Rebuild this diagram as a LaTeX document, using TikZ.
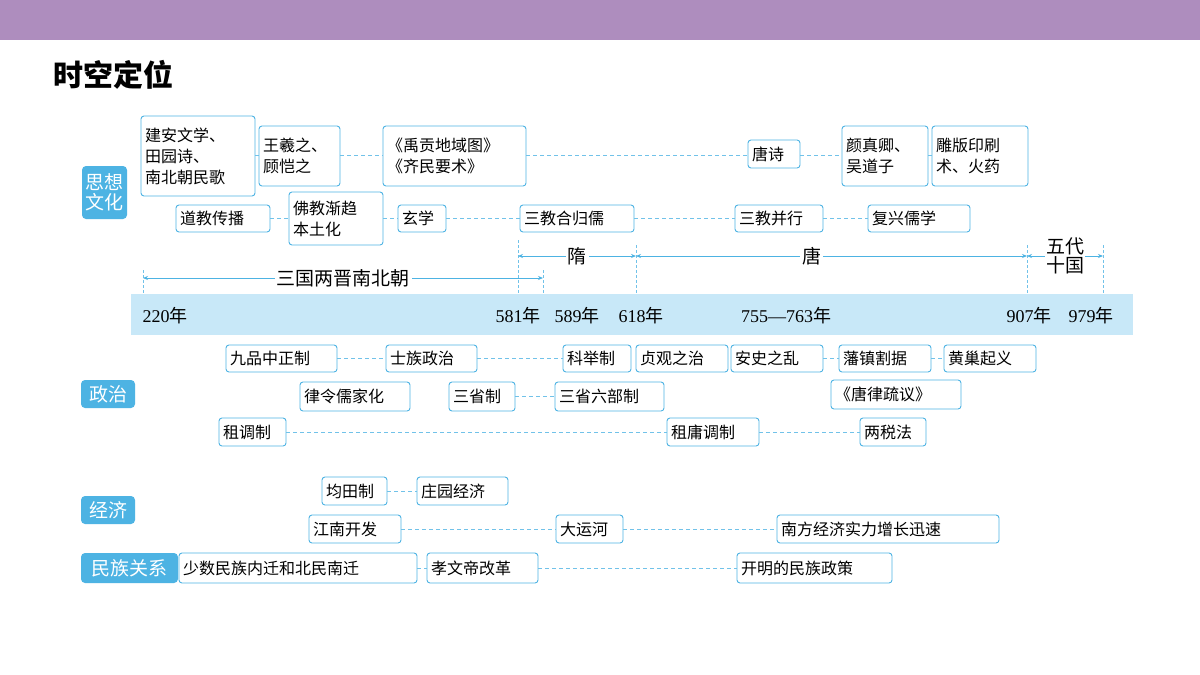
\documentclass[tikz,border=0pt]{standalone}
\usepackage{fontspec}
\setmainfont{Liberation Serif}
\newfontfamily\cjk{Noto Sans CJK SC}
\usetikzlibrary{arrows.meta}
\definecolor{bl}{HTML}{4DB3E3}
\definecolor{bar}{HTML}{C8E8F8}
\definecolor{pur}{HTML}{AE8DBE}
\tikzset{
 bx/.style={draw=bl,line width=0.9pt,rounded corners=3pt,inner sep=0pt,align=left,font=\cjk\fontsize{16}{21}\selectfont,text=black},
 lab/.style={fill=bl,rounded corners=4pt,inner sep=0pt,align=center,font=\cjk\fontsize{19}{23}\selectfont,text=white},
 dl/.style={draw=bl!80,dashed,line width=0.7pt,dash pattern=on 4pt off 3pt},
 per/.style={draw=bl,line width=0.8pt,{Stealth[length=5pt,width=4pt]}-{Stealth[length=5pt,width=4pt]}},
 tick/.style={draw=bl!80,dashed,line width=0.6pt,dash pattern=on 3pt off 2pt},
 pl/.style={fill=white,inner sep=2pt,font=\cjk\fontsize{19}{23}\selectfont,align=center},
 yr/.style={font=\fontsize{18}{20}\selectfont,inner sep=0pt}
}
\newcommand{\bxx}[6]{\node[bx,minimum width={#4-#2},minimum height={#5-#3},text width={#4-#2-8}] (#1) at ({(#2+#4)/2},{(#3+#5)/2}) {#6};}
\newcommand{\Y}[1]{#1{\cjk 年}}
\begin{document}
\begin{tikzpicture}[x=1pt,y=-1pt]
\useasboundingbox (0,0) rectangle (1200,675);
\fill[white] (0,0) rectangle (1200,675);
\fill[pur] (0,0) rectangle (1200,40);
\node[anchor=west,font=\cjk\bfseries\fontsize{30}{34}\selectfont,inner sep=0pt] (title) at (53,75) {时空定位};
% labels
\node[lab,minimum width=45,minimum height=53] (L1) at (104.5,192.5) {思想\\[-3pt]文化};
\node[lab,minimum width=54,minimum height=28] (L2) at (108,394) {政治};
\node[lab,minimum width=54,minimum height=28] (L3) at (108,510) {经济};
\node[lab,minimum width=97,minimum height=30] (L4) at (129.5,568) {民族关系};
% culture row 1
\bxx{a1}{141}{116}{255}{196}{建安文学、\\田园诗、\\南北朝民歌}
\bxx{a2}{259}{126}{340}{186}{王羲之、\\顾恺之}
\bxx{a3}{383}{126}{526}{186}{《禹贡地域图》\\《齐民要术》}
\bxx{a4}{748}{140}{800}{168}{唐诗}
\bxx{a5}{842}{126}{928}{186}{颜真卿、\\吴道子}
\bxx{a6}{932}{126}{1028}{186}{雕版印刷\\术、火药}
\foreach \u/\v in {a1/a2,a2/a3,a3/a4,a4/a5,a5/a6}{\draw[dl] (\u.east |- 0,155) -- (\v.west |- 0,155);}
% culture row 2
\bxx{b1}{176}{205}{270}{232}{道教传播}
\bxx{b2}{289}{192}{383}{245}{佛教渐趋\\本土化}
\bxx{b3}{398}{205}{446}{232}{玄学}
\bxx{b4}{520}{205}{634}{232}{三教合归儒}
\bxx{b5}{735}{205}{823}{232}{三教并行}
\bxx{b6}{868}{205}{970}{232}{复兴儒学}
\foreach \u/\v in {b1/b2,b2/b3,b3/b4,b4/b5,b5/b6}{\draw[dl] (\u.east |- 0,218) -- (\v.west |- 0,218);}
% periods
\coordinate (t220) at (143,278); \coordinate (t589) at (543,278);
\coordinate (t581) at (518,256); \coordinate (t618) at (636,256);
\coordinate (t907) at (1027,256); \coordinate (t979) at (1103,256);
\foreach \c/\y in {t220/270,t581/240,t589/270,t618/245,t907/245,t979/245}{\draw[tick] (\c |- 0,\y) -- (\c |- 0,295);}
\draw[per] (t220) -- (t589) node[pl,midway] (p0) {三国两晋南北朝};
\draw[per] (t581) -- (t618) node[pl,midway] (p1) {隋};
\draw[per] (t618) -- (t907) node[pl,pos=0.45] (p2) {唐};
\draw[per] (t907) -- (t979) node[pl,midway,inner sep=1pt] (p3) {五代\\[-4pt]十国};
% bar
\fill[bar] (131,294) rectangle (1133,335);
\node[yr] (y1) at (165,316) {\Y{220}};
\node[yr] (y2) at (518,316) {\Y{581}};
\node[yr] (y3) at (577,316) {\Y{589}};
\node[yr] (y4) at (641,316) {\Y{618}};
\node[yr] (y5) at (786,316) {\Y{755—763}};
\node[yr] (y6) at (1029,316) {\Y{907}};
\node[yr] (y7) at (1091,316) {\Y{979}};
% politics
\bxx{p1}{226}{345}{337}{372}{九品中正制}
\bxx{p2}{386}{345}{477}{372}{士族政治}
\bxx{p3}{563}{345}{631}{372}{科举制}
\bxx{p4}{636}{345}{728}{372}{贞观之治}
\bxx{p5}{731}{345}{823}{372}{安史之乱}
\bxx{p6}{839}{345}{931}{372}{藩镇割据}
\bxx{p7}{944}{345}{1036}{372}{黄巢起义}
\foreach \u/\v in {p1/p2,p2/p3,p5/p6,p6/p7}{\draw[dl] (\u.east) -- (\v.west);}
\bxx{q1}{300}{382}{410}{411}{律令儒家化}
\bxx{q2}{449}{382}{515}{411}{三省制}
\bxx{q3}{555}{382}{664}{411}{三省六部制}
\bxx{q4}{831}{380}{961}{409}{《唐律疏议》}
\draw[dl] (q2.east) -- (q3.west);
\bxx{r1}{219}{418}{286}{446}{租调制}
\bxx{r2}{667}{418}{759}{446}{租庸调制}
\bxx{r3}{860}{418}{926}{446}{两税法}
\draw[dl] (r1.east) -- (r2.west); \draw[dl] (r2.east) -- (r3.west);
% economy
\bxx{e1}{322}{477}{387}{505}{均田制}
\bxx{e2}{417}{477}{508}{505}{庄园经济}
\draw[dl] (e1.east) -- (e2.west);
\bxx{e3}{309}{515}{401}{543}{江南开发}
\bxx{e4}{556}{515}{623}{543}{大运河}
\bxx{e5}{777}{515}{999}{543}{南方经济实力增长迅速}
\draw[dl] (e3.east) -- (e4.west); \draw[dl] (e4.east) -- (e5.west);
% ethnic
\bxx{n1}{179}{553}{417}{583}{少数民族内迁和北民南迁}
\bxx{n2}{427}{553}{538}{583}{孝文帝改革}
\bxx{n3}{737}{553}{892}{583}{开明的民族政策}
\draw[dl] (n1.east) -- (n2.west); \draw[dl] (n2.east) -- (n3.west);
\end{tikzpicture}
\end{document}
